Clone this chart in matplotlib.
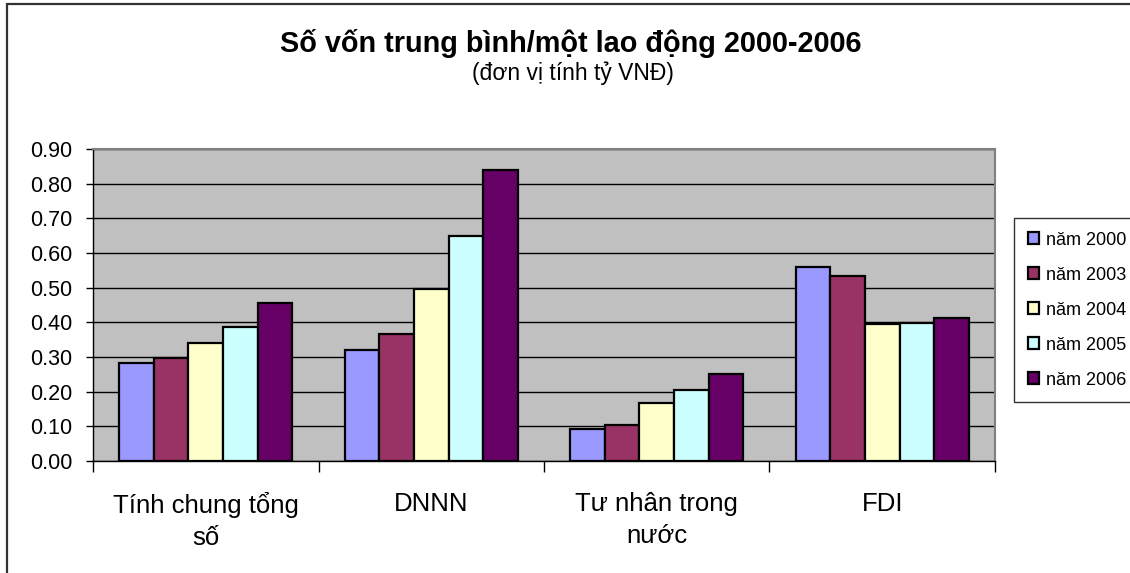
import numpy as np
import matplotlib
matplotlib.use("Agg")
import matplotlib.pyplot as plt
from matplotlib.patches import Rectangle

plt.rcParams['font.family'] = ['Liberation Sans', 'DejaVu Sans']

categories = ["Tính chung tổng\nsố", "DNNN", "Tư nhân trong\nnước", "FDI"]
series = ["năm 2000", "năm 2003", "năm 2004", "năm 2005", "năm 2006"]
v2000 = [0.284, 0.320, 0.093, 0.561]
v2003 = [0.298, 0.366, 0.105, 0.535]
v2004 = [0.341, 0.497, 0.168, 0.394]
v2005 = [0.387, 0.649, 0.205, 0.399]
v2006 = [0.457, 0.840, 0.251, 0.413]
values = [v2000, v2003, v2004, v2005, v2006]
colors = ["#9999FF", "#993366", "#FFFFCC", "#CCFFFF", "#660066"]
yticks = np.arange(0, 0.91, 0.1)

W, H = 1130, 573
fig = plt.figure(figsize=(W / 100, H / 100), dpi=100)

# chart area border (cut off on right and bottom)
fig.patches.append(Rectangle((7 / W, -0.1), 1.2, (573 - 4) / H + 0.1,
                             transform=fig.transFigure, fill=False,
                             edgecolor="#333333", linewidth=1.6))

ax = fig.add_axes([93 / W, (H - 461) / H, 902 / W, 312 / H])
ax.set_facecolor("#C0C0C0")

x = np.arange(len(categories))
bw = 1 / 6.5
for i, (vals, c, lab) in enumerate(zip(values, colors, series)):
    ax.bar(x + (i - 2) * bw, vals, bw, color=c, edgecolor="black",
           linewidth=1.6, label=lab, zorder=3)

ax.set_xlim(-0.5, 3.5)
ax.set_ylim(0, 0.9)
ax.set_yticks(yticks)
ax.set_yticklabels([f"{v:.2f}" for v in yticks])
ax.grid(axis="y", color="black", linewidth=1, zorder=1)
ax.set_axisbelow(True)

ax.set_xticks(x)
ax.set_xticklabels(categories, fontsize=18.5, linespacing=1.45)
ax.set_xticks(np.arange(-0.5, 4, 1), minor=True)
ax.tick_params(axis="x", which="major", length=0, pad=22)
ax.tick_params(axis="x", which="minor", length=8, width=1, direction="out")
ax.tick_params(axis="y", labelsize=15.5, length=5, width=1, pad=10)

for s in ["top", "right"]:
    ax.spines[s].set_color("#808080")
    ax.spines[s].set_linewidth(1.5)
for s in ["left", "bottom"]:
    ax.spines[s].set_color("black")
    ax.spines[s].set_linewidth(1)

fig.text(571 / W, (H - 51.7) / H, "Số vốn trung bình/một lao động 2000-2006",
         ha="center", va="baseline", fontsize=20.8, fontweight="bold")
fig.text(573 / W, (H - 80) / H, "(đơn vị tính tỷ VNĐ)",
         ha="center", va="baseline", fontsize=16.5)

leg = ax.legend(loc="upper left", bbox_to_anchor=(1014 / W, (H - 218) / H),
                bbox_transform=fig.transFigure, borderaxespad=0,
                fontsize=13, frameon=True, fancybox=False,
                handlelength=0.65, handleheight=0.65, handletextpad=0.4,
                labelspacing=1.0, borderpad=0.75)
leg.get_frame().set_edgecolor("black")
leg.get_frame().set_linewidth(1)
leg.get_frame().set_facecolor("white")

fig.savefig("out.png", dpi=100)
